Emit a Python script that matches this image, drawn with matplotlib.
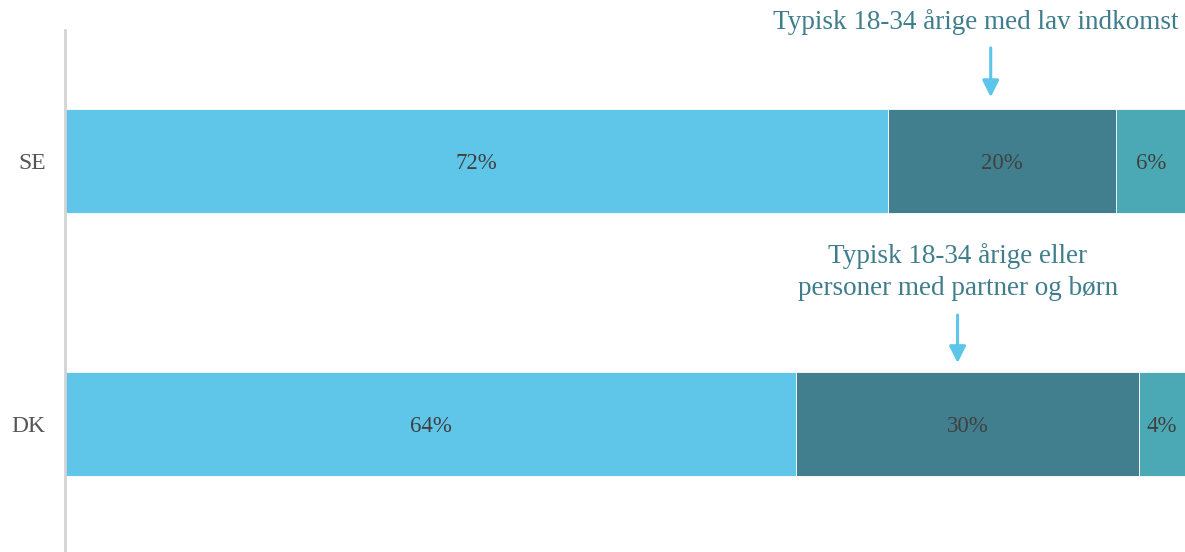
import matplotlib
matplotlib.use('Agg')
import matplotlib.pyplot as plt
import numpy as np

# ── Data ──────────────────────────────────────────────────────────────────────

countries = ['SE', 'DK']
share_a = [72, 64]
share_b = [20, 30]
share_c = [6, 4]
seg_labels = [['72%', '20%', '6%'], ['64%', '30%', '4%']]
notes = ['Typisk 18-34 årige med lav indkomst',
         'Typisk 18-34 årige eller\npersoner med partner og børn']
note_x = [81.0, 78.1]

COLORS = ['#5fc6ea', '#417f8f', '#4ba9b5']
NOTE_COLOR = '#3f7d8c'
ARROW_COLOR = '#5bc5ea'

plt.rcParams['font.family'] = ['Liberation Serif', 'DejaVu Serif']

fig = plt.figure(figsize=(11.85, 5.52), dpi=100)
ax = fig.add_axes([65 / 1185, 0, 1 - 65 / 1185, 522 / 552])

y = np.arange(len(countries))
left = np.zeros(len(countries))
for vals, col in zip([share_a, share_b, share_c], COLORS):
  ax.barh(y, vals, left=left, height=0.395, color=col, edgecolor='white', linewidth=0.6)
  left = left + np.array(vals)

# segment labels
for i in range(len(countries)):
  starts = [0, share_a[i], share_a[i] + share_b[i]]
  widths = [share_a[i], share_b[i], share_c[i]]
  for s, w, lab in zip(starts, widths, seg_labels[i]):
    ax.text(s + w / 2, y[i], lab, ha='center', va='center_baseline', fontsize=16.5, color='#404040')

ax.set_xlim(0, 98.0)
ax.set_ylim(1.485, -0.498)

# annotations above bars
arrow = dict(arrowstyle='-|>', color=ARROW_COLOR, lw=2.2, mutation_scale=25, shrinkA=0, shrinkB=0)
ax.annotate('', xy=(note_x[0], -0.243), xytext=(note_x[0], -0.43),
            arrowprops=arrow, annotation_clip=False)
ax.text(79.7, -0.528, notes[0], ha='center', va='center', fontsize=19.5, color=NOTE_COLOR, clip_on=False)

ax.annotate('', xy=(note_x[1], 0.767), xytext=(note_x[1], 0.585),
            arrowprops=arrow, annotation_clip=False)
ax.text(78.1, 0.421, notes[1], ha='center', va='center', fontsize=19.5, color=NOTE_COLOR,
        linespacing=1.4, clip_on=False)

ax.set_yticks(y)
ax.set_yticklabels(countries, fontsize=17, color='#555555')
ax.tick_params(axis='y', length=0, pad=14)
ax.set_xticks([])
for side in ['top', 'right', 'bottom']:
  ax.spines[side].set_visible(False)
ax.spines['left'].set_color('#d4d4d4')
ax.spines['left'].set_linewidth(2)

fig.savefig('out.png', dpi=100)
